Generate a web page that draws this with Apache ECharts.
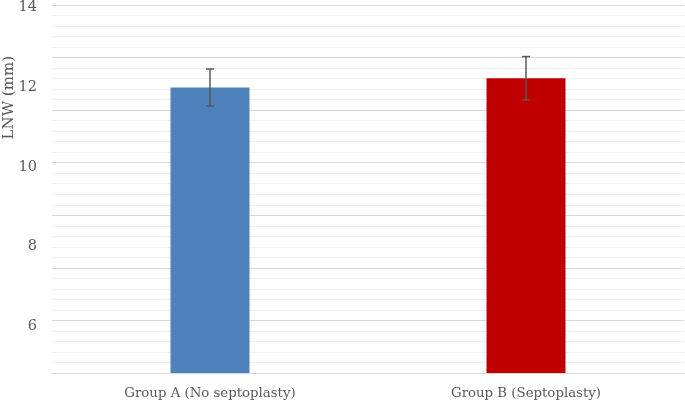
<!DOCTYPE html>
<html>
<head>
<meta charset="utf-8">
<script src="https://cdn.jsdelivr.net/npm/echarts@6/dist/echarts.min.js"></script>
<style>html,body{margin:0;padding:0;background:#fff}#c{width:685px;height:401px}</style>
</head>
<body>
<div id="c"></div>
<script>
var categories = ['Group A (No septoplasty)', 'Group B (Septoplasty)'];
var means = [11.95, 12.18];
var errors = [0.46, 0.54];
var barColors = ['#4f81bd', '#c00000'];
var tickLabels = [6, 8, 10, 12, 14];
var yMin = 4.86, yMax = 14;

var chart = echarts.init(document.getElementById('c'));
var font = 'DejaVu Serif';
chart.setOption({
  animation: false,
  grid: [
    {left: 52, right: 1, top: 5, bottom: 28},
    {left: 52, right: 1, top: 5, height: 321}
  ],
  xAxis: [
    {type: 'category', data: categories, gridIndex: 0,
     axisLine: {lineStyle: {color: '#d9d9d9', width: 1}}, axisTick: {show: false},
     axisLabel: {color: '#595959', fontFamily: font, fontSize: 13.3, margin: 14}},
    {type: 'category', data: categories, gridIndex: 1, show: false}
  ],
  yAxis: [
    {type: 'value', gridIndex: 0, min: yMin, max: yMax, show: false, splitLine: {show: false}},
    {type: 'value', gridIndex: 0, min: 0, max: 35, interval: 5, position: 'right',
     axisLine: {show: false}, axisTick: {show: false}, axisLabel: {show: false},
     splitLine: {show: true, lineStyle: {color: '#d9d9d9', width: 1}},
     minorTick: {show: false, splitNumber: 5},
     minorSplitLine: {show: true, lineStyle: {color: '#f0f0f0', width: 1}}},
    {type: 'value', gridIndex: 1, min: tickLabels[0], max: tickLabels[tickLabels.length - 1], interval: 2,
     axisLine: {show: false}, axisTick: {show: false}, splitLine: {show: false},
     axisLabel: {color: '#595959', fontFamily: font, fontSize: 14.5, margin: 15}}
  ],
  graphic: [{
    type: 'text', left: 2, top: 56, rotation: Math.PI / 2,
    style: {text: 'LNW (mm)', fill: '#595959', font: '15px "DejaVu Serif"'}
  }],
  series: [
    {type: 'bar', xAxisIndex: 0, yAxisIndex: 0, barWidth: 79,
     data: means.map(function (v, i) { return {value: v, itemStyle: {color: barColors[i]}}; })},
    {type: 'custom', xAxisIndex: 0, yAxisIndex: 0, z: 10,
     data: means.map(function (v, i) { return [i, v - errors[i], v + errors[i]]; }),
     renderItem: function (params, api) {
       var lo = api.coord([api.value(0), api.value(1)]);
       var hi = api.coord([api.value(0), api.value(2)]);
       var w = 4;
       var st = {stroke: '#595959', lineWidth: 1.5};
       return {type: 'group', children: [
         {type: 'line', shape: {x1: hi[0], y1: hi[1], x2: lo[0], y2: lo[1]}, style: st},
         {type: 'line', shape: {x1: hi[0] - w, y1: hi[1], x2: hi[0] + w, y2: hi[1]}, style: st},
         {type: 'line', shape: {x1: lo[0] - w, y1: lo[1], x2: lo[0] + w, y2: lo[1]}, style: st}
       ]};
     }}
  ]
});
</script>
</body>
</html>
